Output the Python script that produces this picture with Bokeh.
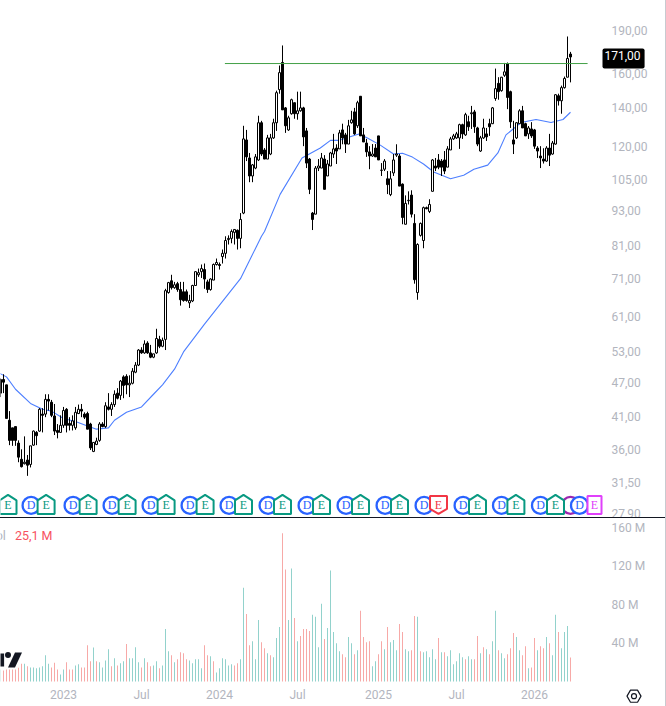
import math
from bokeh.embed import file_html
from bokeh.resources import INLINE
from bokeh.layouts import column, row
from bokeh.models import ColumnDataSource, FixedTicker, Label, Range1d, Div
from bokeh.plotting import figure

opens = [45.0,47.5,46.5,40.4,39.2,39.4,36.9,34.6,34.0,34.5,
33.9,36.6,38.5,38.7,41.4,41.4,43.9,43.4,41.1,38.8,
38.5,39.6,42.2,39.9,39.6,39.2,41.5,42.2,41.4,41.5,
39.8,35.7,36.7,37.3,39.8,39.4,42.6,42.2,43.0,45.0,
44.6,48.0,48.1,46.5,46.8,48.9,50.3,53.4,52.8,54.9,
52.8,51.9,52.8,55.7,54.2,55.7,67.1,70.3,68.4,69.5,
67.9,67.3,67.3,64.4,64.9,69.0,72.0,72.9,73.5,70.0,
67.9,70.5,75.0,75.0,77.4,78.4,82.8,83.2,85.2,85.9,
83.2,92.0,123,114.5,106.6,110,113.6,131.7,118.2,114,
116.3,124,131.7,150.2,167.3,139.7,128,136.5,142.6,136.5,
138.1,139.7,127.5,114,92,91.6,110,110,114,106.6,
110.9,116.3,119.1,118.7,128,125.5,121,131.7,137.5,130.1,
146.3,125.5,121.5,117.3,115.4,119.1,125,109,109.5,105.4,
99,107.9,115.8,115.4,103.2,88,96.6,98.8,88.3,67.1,
84.2,82.5,94,92.6,100.3,110.9,113.6,113.1,113.6,110.4,
118.2,123.5,124,124,130.7,125.5,132.2,136.5,137.5,129,
117.7,124,126,131.2,131.2,145,154,149.6,159,166.6,
149,123,124,131.2,138.1,131.2,126,128.5,128,119.1,
115.4,114,113.1,119.1,116.3,121,146.6,143.7,151.4,157.8,
173]
highs = [47.7,48.5,46.5,41.9,39.2,39.4,37.3,36.0,37.9,35.2,
36.5,38.8,38.7,42.4,42.4,44.8,44.8,43.8,43.1,39.8,
41.2,42.6,42.4,40.9,41.2,42.6,43.0,43.1,41.7,41.8,
40.0,37.0,37.7,40.1,40.1,43.4,45.0,43.4,45.5,45.9,
47.4,48.3,48.5,48.3,49.7,50.9,53.6,54.0,55.5,55.3,
54.5,52.6,58.1,56.5,56.1,68.1,70.0,72.0,70.0,70.0,
70.0,70.0,67.9,66.5,69.2,73.0,73.8,75.0,75.3,70.6,
71.0,75.3,76.8,75.6,79.6,83.9,84.2,86.2,86.2,86.2,
92.0,130.1,128,116.8,111.8,116.3,135.4,132.7,119.1,125.5,
126,133.8,149.6,165.3,179,140.2,135.4,144.9,142.6,149,
149,140.3,129,114.5,92.4,110.9,114,116.8,115.8,113.6,
117.3,126,120.9,128,131.2,126.5,133.2,138.1,139.7,143.7,
146.3,129,123.5,120,121,121,125,112.2,114,108.7,
108.7,116.3,120.9,116.3,103.5,98.7,100.3,100.7,91.6,81.6,
88.6,94.4,94.4,97.2,114,114.5,116.3,114,117.7,120,
124.5,126,127,131.2,131.2,137,135.4,140.8,138.6,129.6,
125,133.8,129,133.8,140.2,163.3,157.8,158,167,167.3,
149.6,132.7,132,139,140.8,131.7,130,132,128.5,120,
120,119,120,126,122.5,147.5,147.8,152.6,158.2,185.5,
174.5]
lows = [44.3,45.0,40.7,36.6,36.5,36.5,34.2,33.5,33.9,32.4,
33.5,36.5,36.6,38.6,38.5,40.9,42.0,40.9,38.1,37.6,
38.5,39.2,38.5,38.8,38.8,38.9,41.4,40.9,40.6,39.0,
35.9,35.6,36.6,37.1,39.3,39.2,42.0,41.1,42.6,43.9,
43.8,44.1,44.8,44.3,46.6,48.7,50.1,52.6,52.6,52.6,
51.7,51.7,52.6,53.8,54.0,53.4,66.8,67.9,68.1,67.3,
63.7,64.7,64.7,63.1,64.6,68.9,71.4,71.1,68.1,67.0,
67.6,70.5,74.7,73.5,75.3,76.8,81.2,81.6,81.2,79.6,
80.0,91.6,113.1,104,104,109.5,113.1,115.4,114,114,
115.8,123.5,127.5,147.8,138.6,126.5,127.5,136,133.8,133.3,
137.6,120,110,99.2,86,91.6,108.7,110,101.1,106.6,
110.9,114.5,111.8,118.7,120.9,116.8,121,131.2,125.5,129,
125,122,115,109.5,115,115,113.6,106.6,108.7,99.2,
98.4,106.6,115,102.4,88,88,95.2,90.4,69.5,65.2,
83.8,80,93.4,92,100.3,108.7,109.5,106.6,107.4,110.4,
118.2,123,123.5,118.7,123.5,125,127.5,128.5,126.5,120,
117.3,123.5,122.5,125,131,143.7,144.3,149,158,139,
129,116.3,123.5,131,129,125,123.5,124,118.7,114.5,
110,112,112.8,110.9,116,120.7,141,136.5,150.8,157.8,
154.6]
closes = [47.5,47.0,40.7,37.3,37.3,37.3,34.9,33.6,34.2,33.8,
36.5,38.7,38.0,42.2,41.2,43.9,43.6,41.2,38.7,38.5,
39.6,42.0,39.6,39.6,40.3,41.7,42.2,41.9,40.9,39.0,
36.2,37.0,37.2,39.8,39.4,42.8,42.2,43.0,44.8,44.1,
47.2,46.4,46.5,46.8,49.1,50.3,53.4,52.8,54.7,52.8,
51.9,52.6,55.9,54.2,55.5,67.6,69.8,68.4,69.2,67.9,
65.2,65.0,65.0,65.0,69.0,72.9,72.6,73.8,70.8,67.9,
70.8,75.0,75.6,74.7,78.4,82.5,83.2,85.5,86.2,83.2,
89.7,123.5,115,106.6,111.4,115,131.7,116.3,114,124,
124,131.7,148.4,160.7,138.6,130.1,134.3,144.3,136.5,138.1,
139.7,124.5,112.2,101.1,89.7,110,110.9,114.5,101.1,111.8,
116.8,118.7,117.7,126.5,124,121,130.1,133.2,126,142.6,
125,122,117.3,115.4,116.3,115,113.6,109.1,113.1,103,
105.4,113.6,116.3,102.4,90.4,95.6,96.8,91.6,70.6,81.2,
88.3,94,93.6,95.2,113.6,110,110.4,110.4,108.7,118.7,
123.5,125,126,130.7,126,136,129.6,137,129.6,121,
124,129,124.5,129.6,139.7,150.8,149,157.8,161.2,145.6,
132.2,121,131.7,138.1,129,125,129,125,120,117.7,
114.5,113.1,119.1,115.8,121.5,147.2,143.7,151.4,157,170,
171]
volumes = [12.6,11.6,12.6,12.6,12.6,12.6,14.4,18.6,18.6,15.8,
14.7,14.7,13.7,14.7,15.8,27.4,18.6,14.7,19.6,12.6,
7.4,12.6,20,12.6,12.6,16.8,17.9,14.7,14.7,37.9,
21,35.4,21,20,14.7,22,33.7,15.8,24.2,16.8,
19,21,39,24.2,24.2,35.8,20,14.7,24.2,20,
15.8,16.8,21,13.7,16.8,54.7,31.6,27.4,20,23.2,
30.5,29.5,23.2,22,19,23.2,23.2,13.7,37.9,27.4,
26.3,21,9.5,13.7,24.2,23.2,16.8,17.9,16.8,19,
23.2,97.9,70.5,37.9,42.1,23.2,64.2,41,34.7,29.5,
27.4,25.3,45.3,56.8,154.7,116.8,64.2,117.9,66.3,42.1,
47.4,54.7,54.7,52.6,69.5,67.4,35.8,81,44.2,55.8,
115.8,51.6,40,31.6,28.4,25.3,46.3,40,28.4,32.6,
73.7,46.3,41,42.1,15.8,21,28.4,42.1,33.7,56.8,
41,43.2,32.6,60,51.6,33.7,31.6,32.6,68.4,67.4,
31.6,30.5,31.6,25.3,33.7,23.2,45.3,30.5,30.5,26.3,
32.6,17.9,21,29.5,25.3,23.2,26.3,23.2,23.2,47.4,
29.5,35.8,33.7,28.4,42.1,73.7,32.6,29.5,24.2,28.4,
34.7,50.5,46.3,32.6,27.4,36.8,13.7,14.7,45.3,32.6,
36.8,34.7,46.3,40,27.4,69.5,51.6,34.7,51.6,57.9,
25.1]
volume_side = ("TRRRRRRRTR" "TTTTTTTRRR" "TTRRRTTRRR" "RTRTTTTRTR" "TTRTTTTRTR"
               "RTTRTTTRTR" "RRRTTTTTRR" "TRTTTTTTRR" "TTRRTTTRRT" "RTTTRRTTRT"
               "RRRRTTTTRT" "TTTTRRTTRT" "RRRRTTRRTR" "TTTRRTTRRT" "RTTTTTRTRT"
               "TTTTTRTTRR" "TRTRTTRTTR" "RRTTRRTRRT" "RRTRTTRTTT" "R")
ma_week = [-1,2,5,10,14,17,21,25,29,32,36,38,42,47,51,54,58,61,68,80,87,88,93.2,100.5,106.6,110,113,116,119.5,122.3,126.6,131,134,137.3,141,144.4,150,154.4,157.8,162.4,165.8,168.5,173.5,178.5,183.5,187.5,190]
ma_value = [48.9,48.0,45.7,43.2,42.2,41.9,40.7,40.2,39.5,39.0,39.2,40.4,41.7,42.6,44.8,46.5,49.5,53.0,59.2,70.9,83.9,85.5,99.1,114.5,119.1,122.8,122.8,124.3,125.9,123.9,120.5,116.3,116.7,114.9,111.8,108.3,105.4,106.9,109.5,111.3,116.8,125.5,131.8,133.4,131.8,133.4,137.3]
price_ticks = [190,160,140,120,105,93,81,71,61,53,47,41,36,31.5,27.9]
price_tick_labels = ["190,00","160,00","140,00","120,00","105,00","93,00","81,00","71,00","61,00","53,00","47,00","41,00","36,00","31,50","27,90"]
volume_ticks = [160,120,80,40]
volume_tick_labels = ["160 M","120 M","80 M","40 M"]
time_ticks = [21,47,73,99,126,152,178]
time_tick_labels = ["2023","Jul","2024","Jul","2025","Jul","2026"]
level_price = 166.6
level_start_week = 74.8
level_end_week = 195.7
tag_price = 169.9
last_price_text = "171,00"
last_volume_text = "25,1 M"
dividend_weeks = [10.2,24.2,37.2,50.2,63.2,76.2,89.2,102.2,115.2,128.2,141.2,154.2,167,180,193]
earnings_weeks = [2.5,15.2,29.2,42.2,55.2,68.2,81,94,107,120,133,159,171.8,185]
earnings_miss_week = [146]
earnings_next_week = [198]
split_week = [190]
event_price = 28.81

WEEK_PX = 3.0
FONT = "Roboto"
AXIS_GREY = "#b2b5be"
UP_VOL, DOWN_VOL = "#92d2cc", "#f7a9a7"
X0 = 0.0
FULL_W = 665
SCALE_AT = 602 / WEEK_PX
X1 = X0 + FULL_W / WEEK_PX

# ---------- price pane ----------
p = figure(width=FULL_W, height=517, frame_width=FULL_W, frame_height=517,
           y_axis_type="log", y_axis_location="right", x_axis_location=None,
           x_range=Range1d(X0, X1), y_range=Range1d(27.46, 214.0),
           toolbar_location=None, output_backend="svg", min_border=0,
           outline_line_color=None, background_fill_color="white", border_fill_color="white")
p.grid.visible = False
ax = p.yaxis[0]
ax.fixed_location = SCALE_AT
ax.ticker = FixedTicker(ticks=price_ticks)
ax.major_label_overrides = dict(zip(price_ticks, price_tick_labels))
ax.axis_line_color = None
ax.major_tick_line_color = None
ax.major_tick_out = 0
ax.major_tick_in = 0
ax.minor_tick_line_color = None
ax.major_label_text_color = AXIS_GREY
ax.major_label_text_font = FONT
ax.major_label_text_font_size = "12px"
ax.major_label_standoff = 9

weeks = list(range(len(closes)))
src = ColumnDataSource(dict(x=weeks, o=opens, h=highs, l=lows, c=closes,
    top=[max(a, b) for a, b in zip(opens, closes)],
    bot=[min(a, b) for a, b in zip(opens, closes)],
    fill=["white" if c >= o else "black" for o, c in zip(opens, closes)]))
p.line(ma_week, ma_value, line_color="#4d7fff", line_width=1.1)
p.segment("x", "h", "x", "l", source=src, line_color="black", line_width=1)
p.vbar("x", width=2 / WEEK_PX, top="top", bottom="bot", fill_color="fill",
       line_color="black", line_width=1, source=src)
p.segment([level_start_week], [level_price], [level_end_week], [level_price],
          line_color="#43a047", line_width=1)

# ---------- event badges ----------
def ln_off(px):
    return math.exp(px / 251.8)

def text_marks(xs, txt, color):
    p.text(xs, [event_price] * len(xs), text=[txt] * len(xs), text_color=color,
           text_font=FONT, text_font_size="12px", text_align="center",
           text_baseline="middle")

p.scatter(split_week, [event_price], marker="circle", size=17, fill_color="white",
          line_color="#9c27b0", line_width=2.3)
p.scatter(dividend_weeks, [event_price] * len(dividend_weeks), marker="circle", size=17,
          fill_color="white", line_color="#2962ff", line_width=2.3)
text_marks(dividend_weeks, "D", "#2962ff")

hw = 8.5 / WEEK_PX
up_xs = [[x - hw, x, x + hw, x + hw, x - hw] for x in earnings_weeks]
up_ys = [[event_price * ln_off(5), event_price * ln_off(10.5), event_price * ln_off(5),
          event_price * ln_off(-8.5), event_price * ln_off(-8.5)] for _ in earnings_weeks]
p.patches(up_xs, up_ys, fill_color="white", line_color="#089981", line_width=2)
text_marks(earnings_weeks, "E", "#089981")

dn_xs = [[x - hw, x + hw, x + hw, x, x - hw] for x in earnings_miss_week]
dn_ys = [[event_price * ln_off(9.5), event_price * ln_off(9.5), event_price * ln_off(-3.5),
          event_price * ln_off(-8.5), event_price * ln_off(-3.5)] for _ in earnings_miss_week]
p.patches(dn_xs, dn_ys, fill_color="white", line_color="#f23645", line_width=2)
text_marks(earnings_miss_week, "E", "#f23645")

hw2 = 7 / WEEK_PX
sq_xs = [[x - hw2, x + hw2, x + hw2, x - hw2] for x in earnings_next_week]
sq_ys = [[event_price * ln_off(9.5), event_price * ln_off(9.5), event_price * ln_off(-8.5),
          event_price * ln_off(-8.5)] for _ in earnings_next_week]
p.patches(sq_xs, sq_ys, fill_color="white", line_color="#e040fb", line_width=2)
text_marks(earnings_next_week, "E", "#e040fb")

# price tag
p.add_layout(Label(x=602 / WEEK_PX, y=tag_price, text=last_price_text,
                   text_color="white", text_font=FONT, text_font_size="12px",
                   text_align="left", text_baseline="middle", level="overlay",
                   background_fill_color="black", padding=(2, 4, 2, 9), border_radius=2))

# ---------- volume pane ----------
BELOW = 25 / 0.9588
v = figure(width=FULL_W, height=188, frame_width=FULL_W, frame_height=188,
           y_axis_location="right", x_axis_location="below",
           x_range=Range1d(X0, X1), y_range=Range1d(-BELOW, 170),
           toolbar_location=None, output_backend="svg", min_border=0,
           outline_line_color=None, background_fill_color="white", border_fill_color="white")
v.grid.visible = False
vy = v.yaxis[0]
vy.fixed_location = SCALE_AT
vy.ticker = FixedTicker(ticks=volume_ticks)
vy.major_label_overrides = dict(zip(volume_ticks, volume_tick_labels))
vy.axis_line_color = None
vy.major_tick_line_color = None
vy.major_tick_out = 0
vy.major_tick_in = 0
vy.minor_tick_line_color = None
vy.major_label_text_color = AXIS_GREY
vy.major_label_text_font = FONT
vy.major_label_text_font_size = "12px"
vy.major_label_standoff = 9
vx = v.xaxis[0]
vx.fixed_location = 0
vx.ticker = FixedTicker(ticks=time_ticks)
vx.major_label_overrides = dict(zip(time_ticks, time_tick_labels))
vx.axis_line_color = None
vx.major_tick_line_color = None
vx.major_tick_out = 0
vx.major_tick_in = 0
vx.minor_tick_line_color = None
vx.major_label_text_color = AXIS_GREY
vx.major_label_text_font = FONT
vx.major_label_text_font_size = "12px"
vx.major_label_standoff = 7

v.vbar(weeks, width=1 / WEEK_PX, top=volumes, bottom=0, line_color=None,
       fill_color=[UP_VOL if s == "T" else DOWN_VOL for s in volume_side])

# clipped TradingView mark
v.patches([[-0.5, 1.2, 1.2, -0.5], [4.83, 7.17, 4.83, 2.5]],
          [[29.2, 29.2, 15.7, 15.7], [30.3, 30.3, 14.6, 14.6]],
          fill_color="#131722", line_color=None)
v.scatter([2.5], [27.7], marker="circle", size=6, fill_color="#131722", line_color=None)

v.add_layout(Label(x=1.8, y=152, text="Vol", text_color=AXIS_GREY, text_font=FONT,
                   text_font_size="12.5px", text_align="right", text_baseline="middle"))
v.add_layout(Label(x=4.8, y=152, text=last_volume_text, text_color="#f7525f", text_font=FONT,
                   text_font_size="12.5px", text_align="left", text_baseline="middle"))

# settings glyph under the scale
v.scatter([633.5 / WEEK_PX], [-15.3], marker="hex", size=14, fill_color=None,
          line_color="#131722", line_width=1.2)
v.scatter([633.5 / WEEK_PX], [-15.3], marker="circle", size=5, fill_color=None,
          line_color="#131722", line_width=1.2)

sep = Div(width=FULL_W, height=1, margin=0, styles={"background": "#131722"})
edge = Div(width=1, height=706, margin=0, styles={"background": "#c8cad0"})
layout = row(column(p, sep, v, spacing=0, margin=0), edge, spacing=0, margin=0)

assert len(opens) == len(highs) == len(lows) == len(closes) == len(volumes) == len(volume_side), (
    len(opens), len(highs), len(lows), len(closes), len(volumes), len(volume_side))

open("out.html", "w").write(file_html(layout, INLINE))
